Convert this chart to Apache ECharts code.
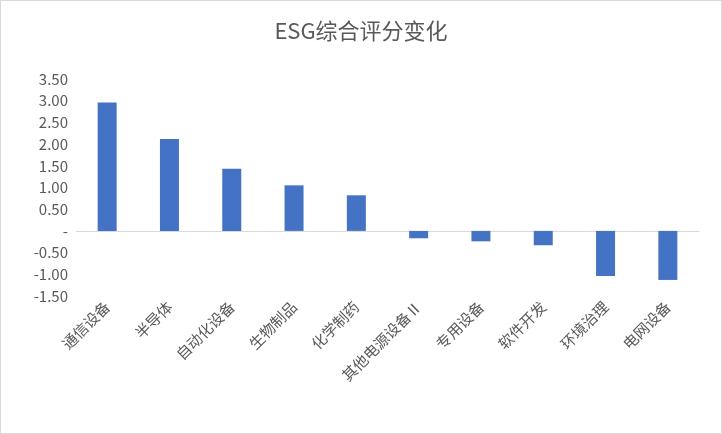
<!DOCTYPE html>
<html><head><meta charset="utf-8">
<script src="https://cdn.jsdelivr.net/npm/echarts@6/dist/echarts.min.js"></script>
<style>html,body{margin:0;padding:0;background:#fff}#c{width:720px;height:432px;border:1px solid #d9d9d9}</style>
</head><body><div id="c"></div>
<script>
var categories = ['通信设备','半导体','自动化设备','生物制品','化学制药','其他电源设备Ⅱ','专用设备','软件开发','环境治理','电网设备'];
var values = [2.96, 2.12, 1.43, 1.05, 0.82, -0.17, -0.24, -0.33, -1.04, -1.13];
var chart = echarts.init(document.getElementById('c'));
chart.setOption({
  animation:false,
  title:{text:'ESG综合评分变化',left:'center',top:14,textStyle:{fontFamily:'Noto Sans CJK SC',fontSize:22,fontWeight:'normal',color:'#595959'}},
  grid:{left:75,right:22,top:78,bottom:137},
  xAxis:{type:'category',data:categories,
    axisLine:{onZero:true,lineStyle:{color:'#d9d9d9'}},axisTick:{show:false},
    axisLabel:{rotate:45,interval:0,color:'#595959',fontSize:15,fontFamily:'Noto Sans CJK SC',margin:8}},
  yAxis:{type:'value',min:-1.5,max:3.5,interval:0.5,
    axisLine:{show:false},axisTick:{show:false},splitLine:{show:false},
    axisLabel:{color:'#595959',fontSize:15,fontFamily:'Noto Sans CJK SC',
      formatter:function(v){return Math.abs(v)<1e-9?'-':v.toFixed(2);}}},
  series:[{type:'bar',data:values,barWidth:19,itemStyle:{color:'#4472c4'}}]
});
</script></body></html>
